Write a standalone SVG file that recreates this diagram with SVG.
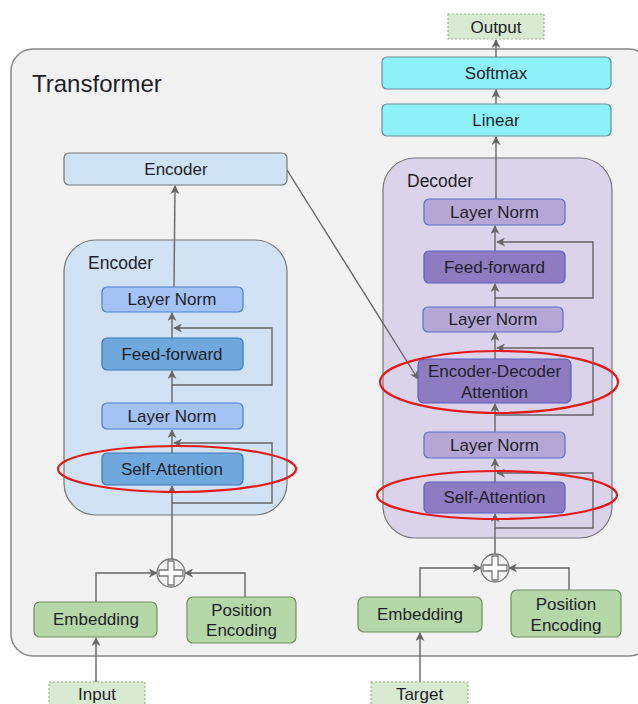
<svg xmlns="http://www.w3.org/2000/svg" width="638" height="704" viewBox="0 0 638 704">
<defs>
<marker id="ahs" viewBox="0 0 10 10" refX="9" refY="5" markerWidth="9" markerHeight="9" orient="auto" markerUnits="userSpaceOnUse">
<path d="M0,0 L10,5 L0,10 L3,5 z" fill="#666"/>
</marker>
<g id="plus">
<circle cx="0" cy="0" r="14" fill="#f2f2f2" stroke="#777" stroke-width="1.3"/>
<path d="M-3,-12 H3 V-3 H12 V3 H3 V12 H-3 V3 H-12 V-3 H-3 Z" fill="#fff" stroke="#777" stroke-width="1.3"/>
</g>
</defs>
<style>
text{font-family:"Liberation Sans",Arial,sans-serif;fill:#1f1f2a;}
.t{font-size:17px;text-anchor:middle;dominant-baseline:central;}
.ca{stroke:#666;stroke-width:1.4;fill:none;marker-end:url(#ahs);}
.ln{fill:#a4c2f4;stroke:#4a7fd0;stroke-width:1.2;}
.dk{fill:#6fa8dc;stroke:#3d78b8;stroke-width:1.2;}
.dln{fill:#b4a7d6;stroke:#5b6fc9;stroke-width:1.2;}
.ddk{fill:#8e7cc3;stroke:#5b5fbf;stroke-width:1.2;}
.cy{fill:#8cf1f9;stroke:#6a8e93;stroke-width:1.2;}
.gr{fill:#b6d7a8;stroke:#6f8f62;stroke-width:1.2;}
.io{fill:#d9ead3;stroke:#9ab58e;stroke-width:1.2;stroke-dasharray:2 2;}
.red{fill:none;stroke:#e21a1a;stroke-width:2.2;}
</style>

<g id="transformer">
<rect x="11" y="49" width="640" height="607" rx="22" fill="#f2f2f2" stroke="#888" stroke-width="1.5"/>
<text x="32" y="92" font-size="24">Transformer</text>
</g>

<g id="encoder-container">
<rect x="64" y="240" width="223" height="275" rx="32" fill="#d0e2f3" stroke="#777" stroke-width="1.2"/>
<text x="88" y="269" font-size="17.5">Encoder</text>
</g>
<g id="decoder-container">
<rect x="383" y="158" width="229" height="380" rx="32" fill="#dad3ea" stroke="#777" stroke-width="1.2"/>
<text x="407" y="187" font-size="17.5">Decoder</text>
</g>

<g id="connectors">
<line class="ca" x1="96" y1="682" x2="96" y2="638"/>
<polyline class="ca" points="96,602 96,573 157,573"/>
<polyline class="ca" points="245,597 245,573 185,573"/>
<line class="ca" x1="172" y1="559" x2="172" y2="486"/>
<line class="ca" x1="172" y1="453" x2="172" y2="430"/>
<polyline class="ca" points="172,503 272,503 272,443 174,443"/>
<line class="ca" x1="172" y1="403" x2="172" y2="371"/>
<line class="ca" x1="172" y1="338" x2="172" y2="313"/>
<polyline class="ca" points="172,385 272,385 272,328 174,328"/>
<line class="ca" x1="174" y1="287" x2="175" y2="186"/>
<line class="ca" x1="287" y1="170" x2="418" y2="379"/>
<line class="ca" x1="420" y1="682" x2="420" y2="633"/>
<polyline class="ca" points="420,597 420,568 481,568"/>
<polyline class="ca" points="569,590 569,568 509,568"/>
<line class="ca" x1="495" y1="554" x2="495" y2="514"/>
<line class="ca" x1="495" y1="482" x2="495" y2="459"/>
<polyline class="ca" points="495,528 593,528 593,473 497,473"/>
<line class="ca" x1="495" y1="432" x2="495" y2="404"/>
<line class="ca" x1="495" y1="359" x2="495" y2="333"/>
<polyline class="ca" points="495,415 593,415 593,348 497,348"/>
<line class="ca" x1="495" y1="307" x2="495" y2="284"/>
<line class="ca" x1="495" y1="251" x2="495" y2="226"/>
<polyline class="ca" points="495,298 593,298 593,242 497,242"/>
<line class="ca" x1="496" y1="199" x2="496" y2="137"/>
<line class="ca" x1="496" y1="104" x2="496" y2="90"/>
<line class="ca" x1="496" y1="57" x2="496" y2="40"/>
</g>

<g id="plus-enc"><use href="#plus" x="171" y="573"/></g>
<g id="plus-dec"><use href="#plus" x="495" y="568"/></g>

<g id="enc-box"><rect x="64" y="153" width="223" height="32" rx="5" fill="#cfe2f3" stroke="#777" stroke-width="1.2"/><text class="t" x="176" y="169">Encoder</text></g>
<g id="enc-ln2"><rect class="ln" x="102" y="287" width="141" height="25" rx="5"/><text class="t" x="172" y="299.5">Layer Norm</text></g>
<g id="enc-ff"><rect class="dk" x="102" y="338" width="141" height="32" rx="5"/><text class="t" x="172" y="354">Feed-forward</text></g>
<g id="enc-ln1"><rect class="ln" x="102" y="403" width="141" height="26" rx="5"/><text class="t" x="172" y="416">Layer Norm</text></g>
<g id="enc-sa"><rect class="dk" x="102" y="453" width="141" height="32" rx="5"/><text class="t" x="172" y="469">Self-Attention</text></g>

<g id="emb-enc"><rect class="gr" x="34" y="602" width="123" height="35" rx="6"/><text class="t" x="96" y="619.5">Embedding</text></g>
<g id="pos-enc"><rect class="gr" x="187" y="597" width="109" height="46" rx="6"/><text class="t" x="241.5" y="610">Position</text><text class="t" x="241.5" y="630">Encoding</text></g>
<g id="input"><rect class="io" x="49" y="682" width="96" height="26"/><text class="t" x="97" y="694">Input</text></g>

<g id="output"><rect class="io" x="448" y="14" width="96" height="25"/><text class="t" x="496" y="27">Output</text></g>
<g id="softmax"><rect class="cy" x="382" y="57" width="229" height="32" rx="5"/><text class="t" x="496" y="73">Softmax</text></g>
<g id="linear"><rect class="cy" x="382" y="104" width="229" height="32" rx="5"/><text class="t" x="496" y="120">Linear</text></g>

<g id="dec-ln3"><rect class="dln" x="424" y="199" width="141" height="26" rx="5"/><text class="t" x="494.5" y="212">Layer Norm</text></g>
<g id="dec-ff"><rect class="ddk" x="424" y="251" width="141" height="32" rx="5"/><text class="t" x="494.5" y="267">Feed-forward</text></g>
<g id="dec-ln2"><rect class="dln" x="423" y="307" width="140" height="25" rx="5"/><text class="t" x="493" y="319.5">Layer Norm</text></g>
<g id="dec-eda"><rect class="ddk" x="418" y="359" width="153" height="44" rx="6"/><text class="t" x="494.5" y="371">Encoder-Decoder</text><text class="t" x="494.5" y="392">Attention</text></g>
<g id="dec-ln1"><rect class="dln" x="424" y="432" width="141" height="26" rx="5"/><text class="t" x="494.5" y="445">Layer Norm</text></g>
<g id="dec-sa"><rect class="ddk" x="424" y="482" width="141" height="31" rx="5"/><text class="t" x="494.5" y="497.5">Self-Attention</text></g>

<g id="emb-dec"><rect class="gr" x="358" y="597" width="124" height="35" rx="6"/><text class="t" x="420" y="614.5">Embedding</text></g>
<g id="pos-dec"><rect class="gr" x="511" y="590" width="110" height="47" rx="6"/><text class="t" x="566" y="604">Position</text><text class="t" x="566" y="625">Encoding</text></g>
<g id="target"><rect class="io" x="371" y="682" width="97" height="26"/><text class="t" x="419.5" y="694">Target</text></g>

<g id="highlights">
<ellipse class="red" cx="177" cy="469" rx="119" ry="23"/>
<ellipse class="red" cx="499" cy="382" rx="119" ry="31"/>
<ellipse class="red" cx="497" cy="495" rx="120" ry="24"/>
</g>
</svg>
